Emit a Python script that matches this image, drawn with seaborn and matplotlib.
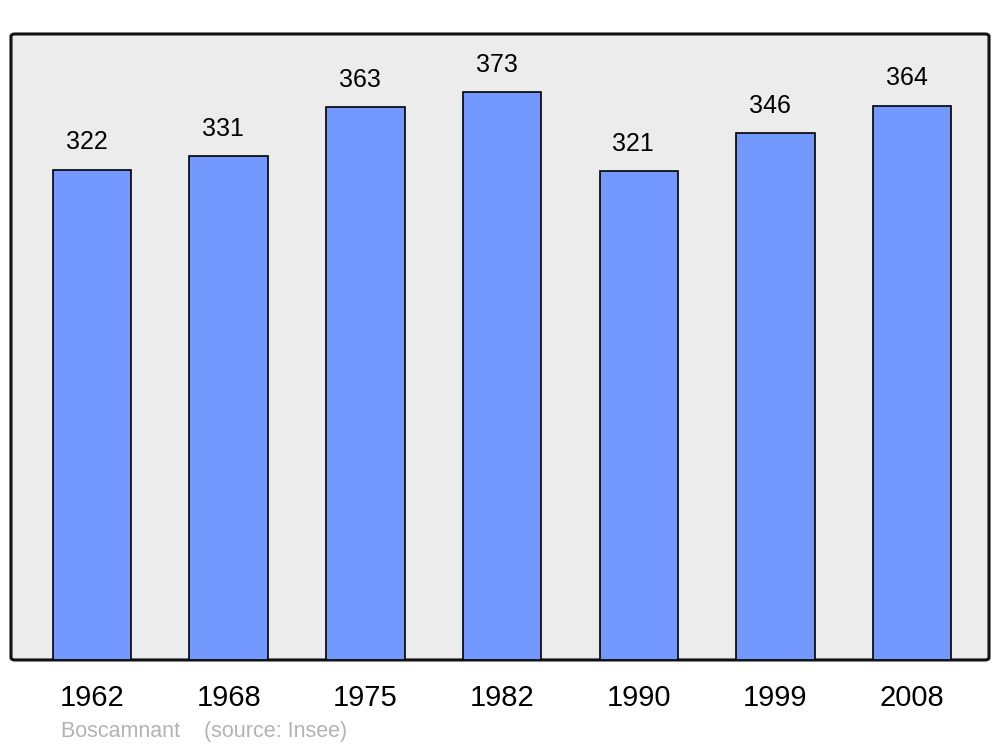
import matplotlib
matplotlib.use("Agg")
import matplotlib.pyplot as plt
import seaborn as sns
import pandas as pd
from matplotlib.patches import FancyBboxPatch

years = ["1962", "1968", "1975", "1982", "1990", "1999", "2008"]
population = [322, 331, 363, 373, 321, 346, 364]

sns.set_style("white")
plt.rcParams["font.family"] = ["Liberation Sans", "DejaVu Sans"]

df = pd.DataFrame({"year": years, "pop": population})

fig = plt.figure(figsize=(10, 7.47), dpi=100)
ax = fig.add_axes([0.011, 0.1165, 0.978, 0.838])
ax.set_facecolor("none")

# rounded grey frame behind the bars
frame = FancyBboxPatch((0, 0), 1, 1, boxstyle="round,pad=0,rounding_size=0.004",
                       transform=ax.transAxes, facecolor="#ececec",
                       edgecolor="#111111", linewidth=2.2, zorder=0, clip_on=False)
ax.add_patch(frame)

sns.barplot(data=df, x="year", y="pop", color="#7399ff", saturation=1,
            edgecolor="black", linewidth=1.2, width=0.575, ax=ax, zorder=2)

bars = ax.containers[0]
for bar, val in zip(bars, population):
    ax.annotate(str(val), (bar.get_x() + bar.get_width() / 2, bar.get_height()),
                xytext=(-4, 11), textcoords="offset points",
                ha="center", va="bottom", fontsize=18, color="black")

ax.set_xlim(-0.593, 6.562)
ax.set_ylim(0, 411)
ax.set_xlabel("")
ax.set_ylabel("")
ax.set_yticks([])
ax.tick_params(axis="x", length=0, pad=17, labelsize=21, labelcolor="black")
for s in ax.spines.values():
    s.set_visible(False)

fig.text(0.061, 0.021, "Boscamnant    (source: Insee)", fontsize=15.5,
         color="#b3b3b3", ha="left", va="center")

fig.savefig("out.png", dpi=100)
